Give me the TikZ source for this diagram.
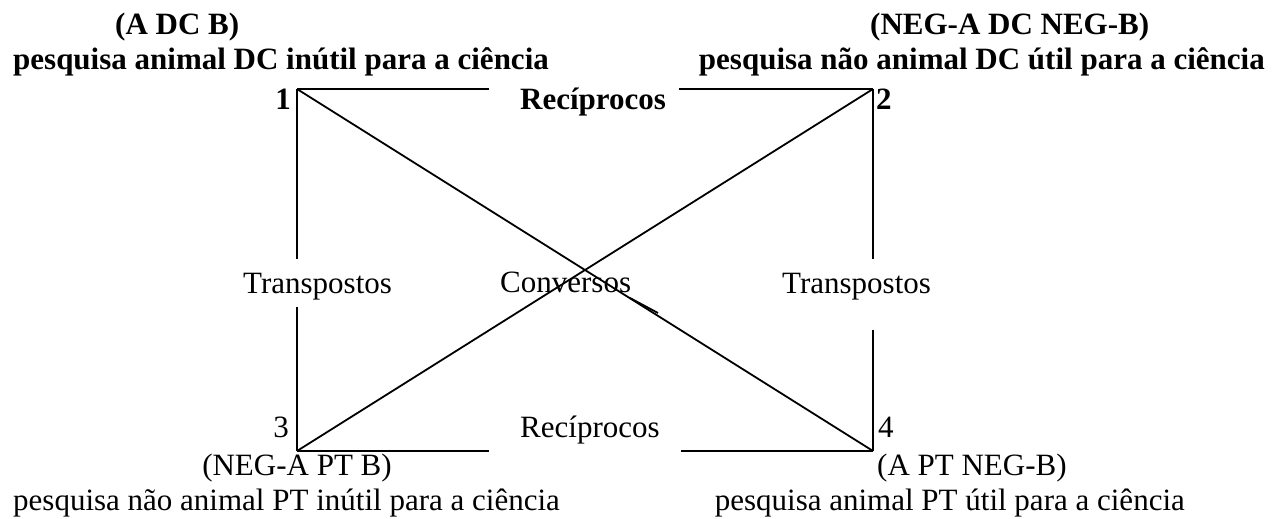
\documentclass[tikz,border=0pt]{standalone}
\usepackage{fontspec}
\setmainfont{Liberation Serif}
\begin{document}
\begin{tikzpicture}[x=1pt,y=1pt,
  lbl/.style={inner sep=0pt,font=\fontsize{31}{36}\selectfont},
  blbl/.style={inner sep=0pt,font=\fontsize{31}{36}\selectfont\bfseries},
  edge/.style={line width=1.8pt,line cap=butt}]
\useasboundingbox (0,0) rectangle (1272,-519);
% corners
\coordinate (c1) at (297,-89);
\coordinate (c2) at (873,-89);
\coordinate (c3) at (297,-451);
\coordinate (c4) at (873,-451);
% top texts
\node[blbl,anchor=base west] (t1a) at (115,-35) {(A DC B)};
\node[blbl,anchor=base west] (t1b) at (13,-70) {pesquisa animal DC inútil para a ciência};
\node[blbl,anchor=base west] (t2a) at (870,-35) {(NEG-A DC NEG-B)};
\node[blbl,anchor=base east] (t2b) at (1265,-70) {pesquisa não animal DC útil para a ciência};
% corner numbers
\node[blbl,anchor=base east] (n1) at (291,-109) {1};
\node[blbl,anchor=base west] (n2) at (876,-109) {2};
\node[lbl,anchor=base east] (n3) at (289,-437) {3};
\node[lbl,anchor=base west] (n4) at (878,-437) {4};
% relation labels
\node[blbl,anchor=base west] (rtop) at (520,-109) {Recíprocos};
\node[lbl,anchor=base west] (rbot) at (520,-437) {Recíprocos};
\node[lbl,anchor=base west] (tl) at (243,-293) {Transpostos};
\node[lbl,anchor=base west] (tr) at (782,-293) {Transpostos};
\node[lbl,anchor=base west] (cv) at (500,-292) {Conversos};
% bottom texts
\node[lbl,anchor=base] (b3a) at (297,-475) {(NEG-A PT B)};
\node[lbl,anchor=base west] (b3b) at (13,-510) {pesquisa não animal PT inútil para a ciência};
\node[lbl,anchor=base west] (b4a) at (877,-475) {(A PT NEG-B)};
\node[lbl,anchor=base east] (b4b) at (1185,-510) {pesquisa animal PT útil para a ciência};
% square edges with gaps
\coordinate (g1) at (489,-89);
\coordinate (g2) at (679,-89);
\coordinate (g3) at (489,-451);
\coordinate (g4) at (681,-451);
\coordinate (v1) at (297,-259);
\coordinate (v2) at (297,-307);
\coordinate (v3) at (873,-259);
\coordinate (v4) at (873,-330);
\draw[edge] (c1) -- (g1);
\draw[edge] (g2) -- (c2);
\draw[edge] (c3) -- (g3);
\draw[edge] (g4) -- (c4);
\draw[edge] (c1) -- (v1);
\draw[edge] (v2) -- (c3);
\draw[edge] (c2) -- (v3);
\draw[edge] (v4) -- (c4);
% diagonals
\draw[edge] (c1) -- (c4);
\draw[edge] (c2) -- (c3);
% small stray stroke near Conversos
\coordinate (s1) at (630,-298);
\coordinate (s2) at (658,-313);
\draw[edge] (s1) -- (s2);
\end{tikzpicture}
\end{document}
